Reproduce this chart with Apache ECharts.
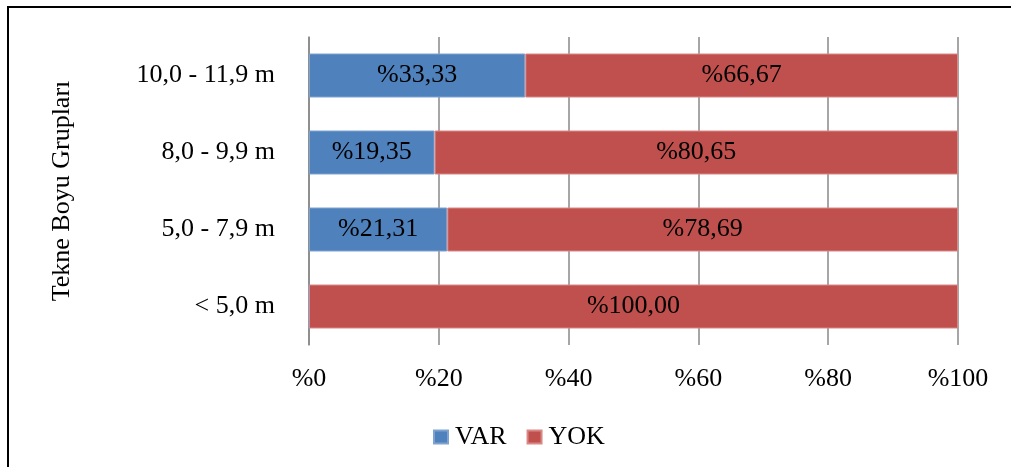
<!DOCTYPE html>
<html>
<head>
<meta charset="utf-8">
<script src="https://cdn.jsdelivr.net/npm/echarts@6/dist/echarts.min.js"></script>
<style>
  html, body { margin: 0; padding: 0; background: #fff; overflow: hidden; }
  #frame { position: absolute; left: 7px; top: 6px; width: 2000px; height: 2000px; border: 2px solid #000; box-sizing: border-box; }
  #chart { position: absolute; left: 0; top: 0; width: 1011px; height: 467px; }
</style>
</head>
<body>
<div id="frame"></div>
<div id="chart"></div>
<script>
const categories = ['< 5,0 m', '5,0 - 7,9 m', '8,0 - 9,9 m', '10,0 - 11,9 m'];
const varValues = [0, 21.31, 19.35, 33.33];
const yokValues = [100.00, 78.69, 80.65, 66.67];
const xTicks = [0, 20, 40, 60, 80, 100];
const seriesNames = ['VAR', 'YOK'];

const FONT = 'Liberation Serif';
const fmt = v => '%' + v.toFixed(2).replace('.', ',');

const chart = echarts.init(document.getElementById('chart'), null, { renderer: 'canvas' });
chart.setOption({
  backgroundColor: 'transparent',
  animation: false,
  textStyle: { fontFamily: FONT, color: '#000' },
  grid: { left: 309, right: 53, top: 37, bottom: 122, containLabel: false },
  legend: {
    data: seriesNames,
    left: 428,
    top: 419,
    itemWidth: 14,
    itemHeight: 13,
    itemGap: 20,
    icon: 'rect',
    formatter: '{t|{name}}',
    textStyle: {
      fontFamily: FONT, fontSize: 26, color: '#000',
      rich: { t: { fontFamily: FONT, fontSize: 26, color: '#000', padding: [0, 0, 0, 2] } }
    }
  },
  xAxis: {
    type: 'value',
    min: xTicks[0],
    max: xTicks[xTicks.length - 1],
    interval: 20,
    axisLine: { show: false },
    axisTick: { show: false },
    splitLine: { show: true, lineStyle: { color: '#888888', width: 1.5 } },
    axisLabel: {
      margin: 21,
      fontFamily: FONT, fontSize: 26, color: '#000',
      formatter: v => '%' + v
    }
  },
  yAxis: {
    type: 'category',
    data: categories,
    name: 'Tekne Boyu Grupları',
    nameLocation: 'middle',
    nameRotate: 90,
    nameGap: 234,
    nameTextStyle: { fontFamily: FONT, fontSize: 26, color: '#000' },
    axisLine: { show: true, lineStyle: { color: '#888888', width: 1.5 } },
    axisTick: { show: false },
    splitLine: { show: false },
    axisLabel: { margin: 34, fontFamily: FONT, fontSize: 26, color: '#000' }
  },
  series: [
    {
      name: seriesNames[0], type: 'bar', stack: 'total', data: varValues,
      barWidth: 44,
      itemStyle: { color: '#4F81BD', borderColor: '#7FA3D0', borderWidth: 1 },
      label: { show: true, position: 'inside', fontFamily: FONT, fontSize: 26, color: '#000',
        formatter: p => p.value > 0 ? fmt(p.value) : '' }
    },
    {
      name: seriesNames[1], type: 'bar', stack: 'total', data: yokValues,
      barWidth: 44,
      itemStyle: { color: '#C0504D', borderColor: '#D98886', borderWidth: 1 },
      label: { show: true, position: 'inside', fontFamily: FONT, fontSize: 26, color: '#000',
        formatter: p => p.value > 0 ? fmt(p.value) : '' }
    }
  ]
});
</script>
</body>
</html>
